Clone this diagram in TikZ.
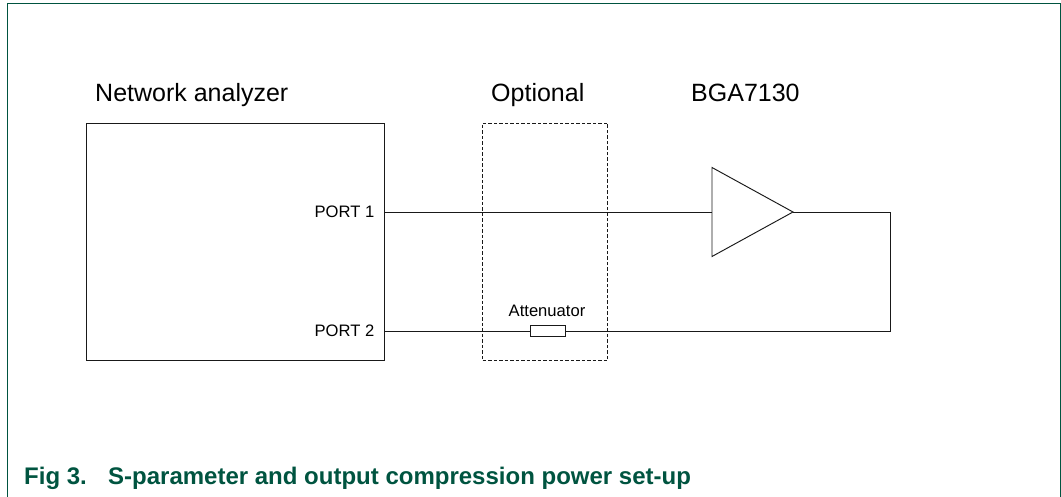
\documentclass[tikz,border=0pt]{standalone}
\usepackage{fontspec}
\setmainfont{Liberation Sans}
\usetikzlibrary{shapes.geometric,positioning}
\definecolor{figgreen}{RGB}{0,84,64}
\tikzset{
  wire/.style={draw=black!90, line width=0.95pt},
  blockbox/.style={draw=black!90, line width=0.95pt, minimum width=298pt, minimum height=237.5pt, inner sep=0pt},
  headlabel/.style={font=\fontsize{25}{28}\selectfont, anchor=base west, inner sep=0pt},
  smalllabel/.style={font=\fontsize{16.6}{19}\selectfont, inner sep=0pt},
  captext/.style={font=\bfseries\fontsize{24}{28}\selectfont, text=figgreen, anchor=base west, inner sep=0pt},
}
\begin{document}
\begin{tikzpicture}[x=1pt,y=-1pt]
  \useasboundingbox (0,0) rectangle (1061,497);
  % frame, open at the bottom
  \draw[figgreen, line width=1.2pt] (7.5,497) -- (7.5,3.5) -- (1060.5,3.5) -- (1060.5,497);
  % headings
  \node[headlabel] (headnet) at (95,101.5) {Network analyzer};
  \node[headlabel] (headopt) at (491,101.5) {Optional};
  \node[headlabel] (headamp) at (691,101.5) {BGA7130};
  % blocks
  \node[blockbox] (analyzer) at (235,241.75) {};
  \node[blockbox, minimum width=125pt, line width=0.85pt, dash pattern=on 3.5pt off 2pt] (optional) at (545,241.75) {};
  \node[draw=black!90, line width=0.95pt, isosceles triangle, isosceles triangle stretches,
        minimum width=89pt, minimum height=81pt, inner sep=0pt, outer sep=0pt,
        anchor=lower side] (amp) at (712,212) {};
  \node[draw=black!90, line width=0.95pt, minimum width=34.5pt, minimum height=10.3pt,
        inner sep=0pt] (atten) at (548,331) {};
  % labels
  \node[smalllabel, anchor=base east] (lblport1) at (374.5,217.5) {PORT 1};
  \node[smalllabel, anchor=base east] (lblport2) at (374.5,336) {PORT 2};
  \node[smalllabel, above=9pt of atten, xshift=-1pt] (lblatten) {Attenuator};
  % wiring
  \coordinate (port1) at (384,212);
  \coordinate (port2) at (384,331);
  \coordinate (turn1) at (890,212);
  \coordinate (turn2) at (890,331);
  \draw[wire] (port1) -- (amp.lower side);
  \draw[wire] (amp.apex) -- (turn1) -- (turn2) -- (atten.east);
  \draw[wire] (atten.west) -- (port2);
  % caption
  \node[captext] (capnum) at (24,484.5) {Fig 3.};
  \node[captext] (captxt) at (108,484.5) {S-parameter and output compression power set-up};
\end{tikzpicture}
\end{document}
